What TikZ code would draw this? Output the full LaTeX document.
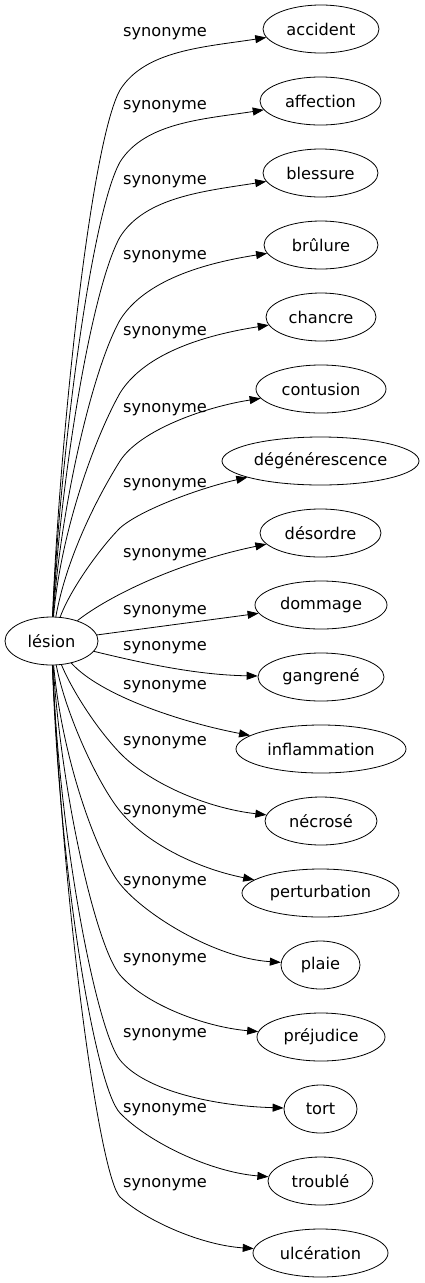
\documentclass[tikz,border=0pt]{standalone}
\usepackage{fontspec}
\setmainfont{DejaVu Sans}
\usetikzlibrary{arrows.meta,shapes.geometric}
\tikzset{
  word/.style={draw, ellipse, minimum height=48pt, inner sep=0pt, line width=0.8pt,
    font=\fontsize{16.2}{19}\selectfont},
  lab/.style={inner sep=0pt, font=\fontsize{16.2}{19}\selectfont},
  syn/.style={draw, line width=0.8pt, -{Triangle[length=11pt,width=8pt]}},
}
\newcommand\upedge[3]{%
  \draw[syn] (l) .. controls (60,{617-0.35*(617-#2)}) and (91,{#2+52}) .. (120,#2)
    .. controls (145,{#2-40}) and (205,{#3+18}) .. (#1);}
\begin{document}
\begin{tikzpicture}[x=1pt,y=-1pt]
\useasboundingbox (0,0) rectangle (424,1283);
\node[word, minimum width=93pt] (l) at (51.5,641) {lésion};
\node[word, minimum width=116pt] (t1) at (321,29) {accident};
\node[word, minimum width=121pt] (t2) at (320.5,101) {affection};
\node[word, minimum width=115pt] (t3) at (320.5,173) {blessure};
\node[word, minimum width=114pt] (t4) at (321,245) {brûlure};
\node[word, minimum width=110pt] (t5) at (321,317) {chancre};
\node[word, minimum width=130pt] (t6) at (321,389) {contusion};
\node[word, minimum width=197pt] (t7) at (320.5,461) {dégénérescence};
\node[word, minimum width=121pt] (t8) at (320.5,533) {désordre};
\node[word, minimum width=132pt] (t9) at (321,605) {dommage};
\node[word, minimum width=126pt] (t10) at (321,677) {gangrené};
\node[word, minimum width=170pt] (t11) at (321,749) {inflammation};
\node[word, minimum width=112pt] (t12) at (321,821) {nécrosé};
\node[word, minimum width=157pt] (t13) at (320.5,893) {perturbation};
\node[word, minimum width=79pt] (t14) at (320.5,965) {plaie};
\node[word, minimum width=128pt] (t15) at (321,1037) {préjudice};
\node[word, minimum width=73pt] (t16) at (320.5,1109) {tort};
\node[word, minimum width=105pt] (t17) at (320.5,1181) {troublé};
\node[word, minimum width=135pt] (t18) at (320.5,1253) {ulcération};
\node[lab] (s1) at (165,34) {synonyme};
\node[lab] (s2) at (165,107) {synonyme};
\node[lab] (s3) at (165,182) {synonyme};
\node[lab] (s4) at (165,257) {synonyme};
\node[lab] (s5) at (165,333) {synonyme};
\node[lab] (s6) at (165,410) {synonyme};
\node[lab] (s7) at (165,485) {synonyme};
\node[lab] (s8) at (165,555) {synonyme};
\node[lab] (s9) at (165,612) {synonyme};
\node[lab] (s10) at (165,648) {synonyme};
\node[lab] (s11) at (165,687) {synonyme};
\node[lab] (s12) at (165,743) {synonyme};
\node[lab] (s13) at (165,812) {synonyme};
\node[lab] (s14) at (165,883) {synonyme};
\node[lab] (s15) at (165,960) {synonyme};
\node[lab] (s16) at (165,1035) {synonyme};
\node[lab] (s17) at (165,1110) {synonyme};
\node[lab] (s18) at (165,1185) {synonyme};
\upedge{t1}{90}{29}
\upedge{t2}{162}{101}
\upedge{t3}{237}{173}
\upedge{t4}{320}{245}
\upedge{t5}{393}{317}
\draw[syn] (l) .. controls (66,560) and (95,501) .. (120,461) .. controls (140,430) and (205,407) .. (t6);
\draw[syn] (l) .. controls (70,590) and (100,548) .. (120,528) .. controls (140,510) and (200,488) .. (t7);
\draw[syn] (l) .. controls (110,595) and (180,562) .. (t8);
\draw[syn] (l) -- (t9);
\draw[syn] (l) .. controls (150,665) and (200,675) .. (t10);
\draw[syn] (l) .. controls (100,695) and (180,722) .. (t11);
\draw[syn] (l) .. controls (72,690) and (96,728) .. (120,753) .. controls (148,782) and (205,808) .. (t12);
\draw[syn] (l) .. controls (66,715) and (98,784) .. (120,811) .. controls (145,842) and (195,868) .. (t13);
\draw[syn] (l) .. controls (62,760) and (98,857) .. (120,884) .. controls (145,915) and (215,958) .. (t14);
\draw[syn] (l) .. controls (62,800) and (97,948) .. (120,975) .. controls (146,1005) and (205,1027) .. (t15);
\draw[syn] (l) .. controls (60,850) and (98,1033) .. (120,1060) .. controls (145,1091) and (215,1106) .. (t16);
\draw[syn] (l) .. controls (60,880) and (96,1088) .. (120,1113) .. controls (148,1142) and (210,1172) .. (t17);
\draw[syn] (l) .. controls (64,920) and (100,1177) .. (120,1197) .. controls (145,1220) and (200,1245) .. (t18);
\end{tikzpicture}
\end{document}
